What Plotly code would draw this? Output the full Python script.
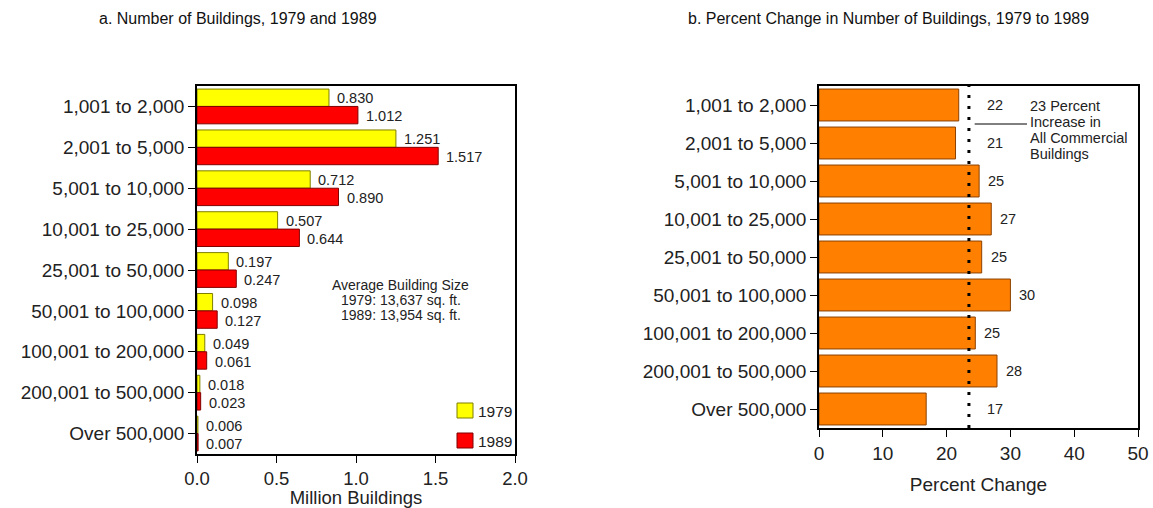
import plotly.graph_objects as go

categories = ["1,001 to 2,000", "2,001 to 5,000", "5,001 to 10,000", "10,001 to 25,000",
              "25,001 to 50,000", "50,001 to 100,000", "100,001 to 200,000",
              "200,001 to 500,000", "Over 500,000"]
buildings_1979 = [0.830, 1.251, 0.712, 0.507, 0.197, 0.098, 0.049, 0.018, 0.006]
buildings_1989 = [1.012, 1.517, 0.890, 0.644, 0.247, 0.127, 0.061, 0.023, 0.007]
pct_change = [21.9, 21.4, 25.1, 27.0, 25.5, 30.0, 24.5, 27.9, 16.8]
pct_labels = ["22", "21", "25", "27", "25", "30", "25", "28", "17"]
all_buildings_change = 23.5
x_ticks_left = [0.0, 0.5, 1.0, 1.5, 2.0]
x_ticks_right = [0, 10, 20, 30, 40, 50]
avg_size_lines = ["Average Building Size", "1979: 13,637 sq. ft.", "1989: 13,954 sq. ft."]
note_lines = ["23 Percent", "Increase in", "All Commercial", "Buildings"]
legend_years = ["1979", "1989"]

FONT = "Liberation Sans, Arial, sans-serif"
W, H = 1153, 508
YELLOW, YELLOW_EDGE = "#FFFF00", "#7F7F00"
RED, RED_EDGE = "#FF0000", "#800000"
ORANGE, ORANGE_EDGE = "#FF8000", "#8B4000"
TXT = "#222222"


def px(x):
    return x / W


def py(y):
    return 1 - y / H


fig = go.Figure()

fig.add_trace(go.Bar(
    y=categories, x=buildings_1979, orientation="h", name="1979",
    marker=dict(color=YELLOW, line=dict(color=YELLOW_EDGE, width=1)),
    xaxis="x", yaxis="y",
))
fig.add_trace(go.Bar(
    y=categories, x=buildings_1989, orientation="h", name="1989",
    marker=dict(color=RED, line=dict(color=RED_EDGE, width=1)),
    xaxis="x", yaxis="y",
))
fig.add_trace(go.Bar(
    y=categories, x=pct_change, orientation="h", name="Percent Change",
    marker=dict(color=ORANGE, line=dict(color=ORANGE_EDGE, width=1)),
    xaxis="x2", yaxis="y2", width=0.84,
))

annotations = []
# value labels, left panel
for cat, v79, v89 in zip(categories, buildings_1979, buildings_1989):
    annotations.append(dict(x=v79, y=cat, xref="x", yref="y", text=f"{v79:.3f}",
                            showarrow=False, xanchor="left", yanchor="middle",
                            xshift=6, yshift=8, font=dict(family=FONT, size=14.5, color=TXT)))
    annotations.append(dict(x=v89, y=cat, xref="x", yref="y", text=f"{v89:.3f}",
                            showarrow=False, xanchor="left", yanchor="middle",
                            xshift=6, yshift=-10, font=dict(family=FONT, size=14.5, color=TXT)))
# value labels, right panel
for cat, v, lab in zip(categories, pct_change, pct_labels):
    if v < all_buildings_change:
        x, shift = all_buildings_change, 16
    else:
        x, shift = v, 7
    annotations.append(dict(x=x, y=cat, xref="x2", yref="y2", text=lab,
                            showarrow=False, xanchor="left", yanchor="middle",
                            xshift=shift, font=dict(family=FONT, size=14.5, color=TXT)))

# panel titles
annotations += [
    dict(x=px(238), y=py(18), xref="paper", yref="paper",
         text="a. Number of Buildings, 1979 and 1989", showarrow=False,
         xanchor="center", yanchor="middle", font=dict(family=FONT, size=16, color="#111")),
    dict(x=px(888), y=py(18), xref="paper", yref="paper",
         text="b. Percent Change in Number of Buildings, 1979 to 1989", showarrow=False,
         xanchor="center", yanchor="middle", font=dict(family=FONT, size=16, color="#111")),
]
# average building size note
for i, line in enumerate(avg_size_lines):
    annotations.append(dict(x=1.28, y=py(285 + 15 * i), xref="x", yref="paper", text=line,
                            showarrow=False, xanchor="center", yanchor="middle",
                            font=dict(family=FONT, size=14, color=TXT)))
# all-buildings note
for i, line in enumerate(note_lines):
    annotations.append(dict(x=32.7, y=py(106 + 16 * i), xref="x2", yref="paper", text=line,
                            showarrow=False, xanchor="left", yanchor="middle",
                            font=dict(family=FONT, size=14.5, color=TXT)))

shapes = [
    dict(type="line", xref="x2", yref="paper", x0=all_buildings_change, x1=all_buildings_change,
         y0=py(428), y1=py(86),
         line=dict(color="black", width=3, dash="3px,8px")),
    dict(type="line", xref="x2", yref="y2", x0=24.4, x1=32.6, y0=0.5, y1=0.5,
         line=dict(color="black", width=1)),
]

# legend keys (drawn as boxes with labels)
for i, (year, col, edge) in enumerate(zip(legend_years, [YELLOW, RED], [YELLOW_EDGE, RED_EDGE])):
    top = 403 + 30 * i
    shapes.append(dict(type="rect", xref="paper", yref="paper",
                       x0=px(457), x1=px(473), y0=py(top + 15), y1=py(top),
                       fillcolor=col, line=dict(color=edge, width=1)))
    annotations.append(dict(x=px(476), y=py(top + 8), xref="paper", yref="paper", text=year,
                            showarrow=False, xanchor="left", yanchor="middle",
                            font=dict(family=FONT, size=15.5, color=TXT)))

axis_common = dict(showline=True, linecolor="black", linewidth=1.5, mirror=True,
                   ticks="outside", ticklen=7, tickcolor="black", showgrid=False, zeroline=False)

fig.update_layout(
    width=W, height=H,
    margin=dict(l=0, r=0, t=0, b=0, autoexpand=False),
    paper_bgcolor="white", plot_bgcolor="white",
    barmode="group", bargap=0.15, bargroupgap=0.0,
    font=dict(family=FONT, size=18, color=TXT),
    showlegend=False,
    xaxis=dict(domain=[px(197), px(515)], range=[0, 2.0], tickvals=x_ticks_left,
               ticktext=[f"{t:.1f}" for t in x_ticks_left],
               tickfont=dict(size=18.5),
               title=dict(text="Million Buildings", font=dict(size=18.5), standoff=4),
               anchor="y", **axis_common),
    yaxis=dict(domain=[py(454), py(86)], autorange="reversed",
               tickfont=dict(size=19), anchor="x", **axis_common),
    xaxis2=dict(domain=[px(819), px(1138)], range=[0, 50], tickvals=x_ticks_right,
                tickfont=dict(size=19),
                title=dict(text="Percent Change", font=dict(size=19), standoff=15),
                anchor="y2", **axis_common),
    yaxis2=dict(domain=[py(428), py(86)], autorange="reversed",
                tickfont=dict(size=19), anchor="x2", **axis_common),
    annotations=annotations,
    shapes=shapes,
)

fig.write_html("out.html", config={"displayModeBar": False},
               post_script="document.body.style.margin='0px';document.body.style.overflow='hidden';")
